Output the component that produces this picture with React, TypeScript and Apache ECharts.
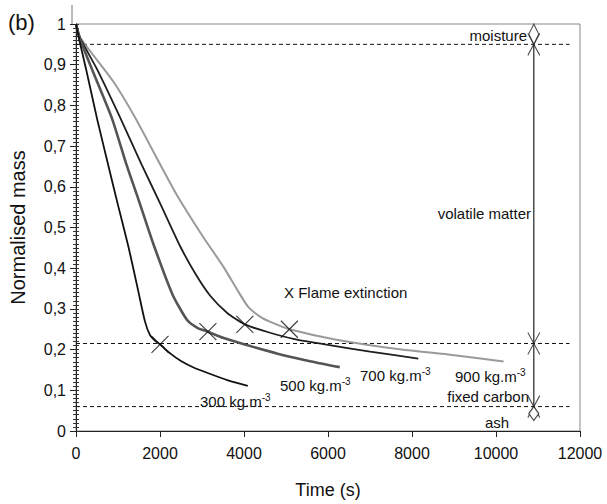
import React, { useEffect, useRef } from "react";
import * as echarts from "echarts";

// Normalised mass loss curves [time (s), mass fraction] for four bed densities
const density300: number[][] = [
  [0, 1], [80, 0.96], [240, 0.889], [500, 0.768], [780, 0.648], [1000, 0.555],
  [1250, 0.452], [1480, 0.345], [1640, 0.27], [1760, 0.236], [1880, 0.222],
  [2000, 0.213], [2250, 0.19], [2500, 0.172], [2800, 0.156], [3200, 0.14],
  [3600, 0.125], [4090, 0.111],
];
const density500: number[][] = [
  [0, 1], [100, 0.962], [380, 0.889], [850, 0.77], [1200, 0.655], [1500, 0.565],
  [1840, 0.46], [2300, 0.335], [2650, 0.272], [2900, 0.253], [3140, 0.244],
  [3500, 0.229], [4000, 0.213], [4800, 0.19], [5600, 0.171], [6280, 0.157],
];
const density700: number[][] = [
  [0, 1], [100, 0.965], [500, 0.889], [1060, 0.768], [1560, 0.655], [2000, 0.56],
  [2480, 0.454], [2850, 0.385], [3190, 0.333], [3600, 0.29], [4020, 0.262],
  [4600, 0.242], [5200, 0.226], [5930, 0.213], [7000, 0.195], [8150, 0.178],
];
const density900: number[][] = [
  [0, 1], [100, 0.967], [900, 0.857], [1420, 0.768], [2030, 0.65], [2400, 0.58],
  [3020, 0.478], [3500, 0.405], [3850, 0.345], [4100, 0.305], [4400, 0.28],
  [4700, 0.265], [5080, 0.25], [6170, 0.225], [7750, 0.2], [8860, 0.188],
  [10180, 0.171],
];

// Flame extinction points
const extinction: number[][] = [
  [2000, 0.213], [3140, 0.244], [4020, 0.262], [5080, 0.25],
];

// Proximate analysis boundaries (moisture / volatile / fixed carbon / ash)
const boundaries: number[] = [0.95, 0.215, 0.06];
const bracketTime = 10900;
const dashEnd = 11750;

const yTicks = (v: number) =>
  v === 0 ? "0" : v === 1 ? "1" : v.toFixed(1).replace(".", ",");

const FONT = "'Liberation Sans', Arial, Helvetica, sans-serif";
const crossSymbol = "path://M0,0L10,10M10,0L0,10";

const sup = (label: string) => `{n|${label}}{s|-3}`;
const richDensity = {
  n: { fontSize: 15, fontFamily: FONT, lineHeight: 18 },
  s: { fontSize: 10, fontFamily: FONT, verticalAlign: "top", lineHeight: 18 },
};

export default function App() {
  const ref = useRef<HTMLDivElement>(null);

  useEffect(() => {
    if (!ref.current) return;
    const chart = echarts.init(ref.current, null, { renderer: "svg" });

    const curve = (name: string, data: number[][], color: string, width: number) => ({
      name,
      type: "line",
      data,
      smooth: 0.2,
      showSymbol: false,
      lineStyle: { color, width },
      z: 3,
    });

    const dashed = boundaries.map((b) => ({
      type: "line",
      data: [[0, b], [dashEnd, b]],
      showSymbol: false,
      lineStyle: { color: "#111", width: 1, type: [4, 3] },
      z: 2,
    }));

    const text = (
      content: string,
      x: number,
      y: number,
      align: string = "left",
      rich = false
    ) => ({
      type: "text",
      x,
      y,
      z: 10,
      style: {
        text: content,
        fill: "#111",
        font: `15px ${FONT}`,
        align,
        verticalAlign: "middle",
        ...(rich ? { rich: richDensity } : {}),
      },
    });

    chart.setOption({
      animation: false,
      backgroundColor: "#fff",
      grid: {
        left: 72,
        top: 24,
        width: 508,
        height: 414,
        show: true,
        borderColor: "#888",
        borderWidth: 1,
      },
      xAxis: {
        type: "value",
        min: 0,
        max: 12000,
        interval: 2000,
        name: "Time (s)",
        nameLocation: "middle",
        nameGap: 50,
        nameTextStyle: { fontSize: 18, fontFamily: FONT, color: "#111" },
        axisLine: { lineStyle: { color: "#222", width: 1 } },
        axisTick: { show: true, length: 6, lineStyle: { color: "#222" } },
        axisLabel: {
          fontSize: 16,
          fontFamily: FONT,
          color: "#111",
          margin: 14,
          formatter: (v: number) => String(v),
        },
        splitLine: { show: false },
      },
      yAxis: [
        {
          type: "value",
          min: 0,
          max: 1,
          interval: 0.1,
          name: "Normalised mass",
          nameLocation: "middle",
          nameGap: 48,
          nameTextStyle: { fontSize: 20, fontFamily: FONT, color: "#111" },
          axisLine: { lineStyle: { color: "#222", width: 1 } },
          axisTick: { show: true, length: 6, lineStyle: { color: "#222" } },
          minorTick: { show: true, splitNumber: 10, length: 3, lineStyle: { color: "#333" } },
          axisLabel: { fontSize: 16, fontFamily: FONT, color: "#111", margin: 10, formatter: yTicks },
          splitLine: { show: false },
        },
        {
          type: "value",
          min: 0,
          max: 1,
          interval: 0.01,
          position: "left",
          axisLine: { show: false },
          axisTick: { show: true, inside: true, length: 3, lineStyle: { color: "#333" } },
          axisLabel: { show: false },
          splitLine: { show: false },
        },
      ],
      series: [
        ...dashed,
        {
          type: "line",
          data: [[bracketTime, boundaries[0]], [bracketTime, boundaries[2]]],
          showSymbol: false,
          lineStyle: { color: "#222", width: 1.2 },
          z: 4,
        },
        {
          type: "scatter",
          data: boundaries.map((b) => [bracketTime, b]),
          symbol: crossSymbol,
          symbolSize: [12, 22],
          itemStyle: { color: "none", borderColor: "#222", borderWidth: 1.2 },
          z: 5,
        },
        {
          type: "scatter",
          data: [[bracketTime, 0.975]],
          symbol: "diamond",
          symbolSize: [10, 20],
          itemStyle: { color: "#fff", borderColor: "#222", borderWidth: 1.2 },
          z: 5,
        },
        {
          type: "scatter",
          data: [[bracketTime, 0.043]],
          symbol: "diamond",
          symbolSize: [10, 14],
          itemStyle: { color: "#fff", borderColor: "#222", borderWidth: 1.2 },
          z: 5,
        },
        curve("900 kg.m-3", density900, "#9a9a9a", 2),
        curve("700 kg.m-3", density700, "#1e1e1e", 1.8),
        curve("500 kg.m-3", density500, "#555", 2.6),
        curve("300 kg.m-3", density300, "#111", 1.8),
        {
          type: "scatter",
          data: extinction,
          symbol: crossSymbol,
          symbolSize: [17, 17],
          itemStyle: { color: "none", borderColor: "#111", borderWidth: 1.2 },
          z: 6,
        },
      ],
      graphic: [
        { type: "line", shape: { x1: 72, y1: 5, x2: 72, y2: 24 }, style: { stroke: "#777", lineWidth: 1 } },
        { type: "text", x: 8, y: 22, style: { text: "(b)", fill: "#111", font: `22px ${FONT}`, verticalAlign: "middle" } },
        text("moisture", 527, 35, "right"),
        text("volatile matter", 531, 213, "right"),
        text("X Flame extinction", 284, 292),
        text("fixed carbon", 529, 396, "right"),
        text("ash", 485, 422),
        text(sup("300 kg.m"), 200, 401, "left", true),
        text(sup("500 kg.m"), 280, 385, "left", true),
        text(sup("700 kg.m"), 360, 375, "left", true),
        text(sup("900 kg.m"), 455, 376, "left", true),
      ],
    });

    return () => chart.dispose();
  }, []);

  return (
    <div
      ref={ref}
      style={{ position: "fixed", left: 0, top: 0, width: 607, height: 504 }}
    />
  );
}
